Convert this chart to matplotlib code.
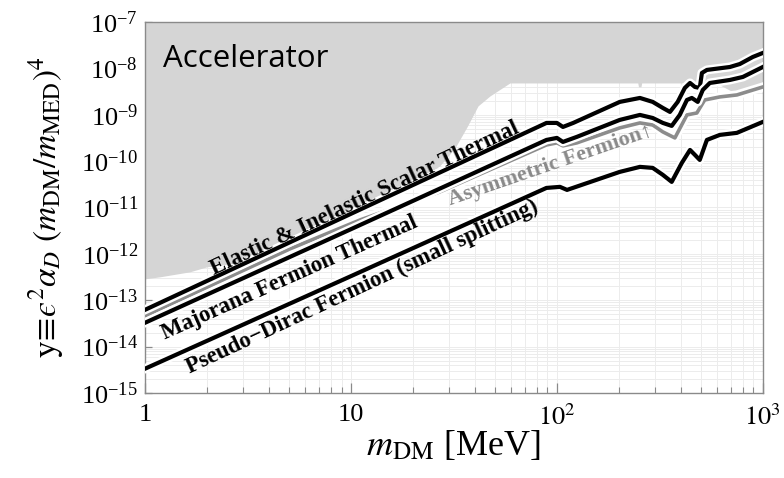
import numpy as np
import matplotlib
matplotlib.use("Agg")
import matplotlib.pyplot as plt
import matplotlib.patheffects as pe
from matplotlib.ticker import LogLocator, FixedLocator, NullFormatter

plt.rcParams['font.family'] = 'serif'
plt.rcParams['font.serif'] = ['Liberation Serif', 'DejaVu Serif']
plt.rcParams['mathtext.fontset'] = 'stix'

# ---- data ----
x_elastic = [1, 10, 89, 100, 107, 120, 202, 253, 292, 327, 354, 386, 418, 443,
             468, 494, 506, 535, 692, 773, 894, 1000]
y_elastic = [6.2e-14, 7.3e-12, 6.65e-10, 6.65e-10, 5.45e-10, 6.65e-10, 1.89e-9,
             2.30e-9, 1.89e-9, 1.40e-9, 1.15e-9, 1.89e-9, 3.78e-9, 4.84e-9,
             3.97e-9, 3.78e-9, 7.96e-9, 9.25e-9, 1.07e-8, 1.24e-8, 1.76e-8, 2.15e-8]

x_majorana = [1, 10, 89, 100, 107, 125, 202, 253, 292, 327, 361, 395, 428, 452,
              483, 511, 553, 692, 800, 1000]
y_majorana = [3.26e-14, 3.4e-12, 2.86e-10, 3.16e-10, 2.59e-10, 3.33e-10, 7.73e-10,
              9.9e-10, 8.5e-10, 6.65e-10, 5.74e-10, 9.9e-10, 2.08e-9, 2.30e-9,
              1.89e-9, 3.42e-9, 4.84e-9, 5.62e-9, 6.53e-9, 1.07e-8]

x_asym = [1, 5.06, 11.1, 27, 89, 100, 107, 125, 202, 253, 292, 327, 374, 428,
          478, 522, 618, 748, 1000]
y_asym = [4.6e-14, 1.28e-12, 5.4e-12, 2.17e-11, 2.23e-10, 2.47e-10, 2.13e-10,
          2.47e-10, 5.2e-10, 6.65e-10, 6.0e-10, 4.26e-10, 3.16e-10, 9.9e-10,
          1.09e-9, 2.08e-9, 2.42e-9, 2.67e-9, 3.97e-9]

x_pseudo = [1, 10, 89, 103.5, 112, 202, 253, 292, 327, 361, 404, 443, 468, 494,
            535, 618, 748, 1000]
y_pseudo = [3.33e-15, 3.3e-13, 2.64e-11, 2.78e-11, 2.39e-11, 5.85e-11, 7.5e-11,
            7.13e-11, 5.04e-11, 3.56e-11, 9.1e-11, 1.74e-10, 1.36e-10, 1.06e-10,
            2.86e-10, 3.67e-10, 4.06e-10, 7.0e-10]

x_accel = [1, 1.18, 1.65, 2.0, 2.89, 5.65, 11.06, 21.6, 27.0, 32.0, 36.6, 41.4,
           47.3, 59.1, 247, 249, 256, 258, 494, 618, 748, 1000]
y_accel = [2.89e-13, 3.19e-13, 4.09e-13, 5.25e-13, 6.4e-13, 2.56e-12, 1.03e-11,
           4.13e-11, 7.9e-11, 1.92e-10, 5.46e-10, 1.55e-9, 2.54e-9, 4.84e-9,
           4.84e-9, 4.0e-9, 4.0e-9, 4.84e-9, 4.84e-9, 4.38e-9, 2.81e-9, 4.18e-9]

x_ticks = [1, 10, 100, 1000]
x_ticklabels = ['1', '10', r'$10^2$', r'$10^3$']

labels = {
    'elastic': 'Elastic & Inelastic Scalar Thermal',
    'majorana': 'Majorana Fermion Thermal',
    'pseudo': 'Pseudo\u2212Dirac Fermion (small splitting)',
    'asym': 'Asymmetric Fermion\u2191',
}

# ---- figure ----
fig = plt.figure(figsize=(7.84, 4.78), dpi=100)
ax = fig.add_axes([0.185, 0.178, 0.788, 0.776])
ax.set_xscale('log')
ax.set_yscale('log')
ax.set_xlim(1, 1000)
ax.set_ylim(1e-15, 1e-7)

# faint grid
ax.yaxis.set_minor_locator(LogLocator(base=10, subs=np.arange(2, 10), numticks=100))
ax.yaxis.set_minor_formatter(NullFormatter())
ax.grid(which='both', color='#ececec', lw=0.7, zorder=0)
ax.set_axisbelow(True)

# accelerator excluded region
ax.fill_between(x_accel, y_accel, 1e-7, color='#d5d5d5', lw=0, zorder=1)

halo = [pe.Stroke(linewidth=6.5, foreground='white'), pe.Normal()]
ax.plot(x_asym, y_asym, color='#8c8c8c', lw=2.6, zorder=3, path_effects=halo,
        solid_joinstyle='round')
for xs, ys in [(x_elastic, y_elastic), (x_majorana, y_majorana), (x_pseudo, y_pseudo)]:
    ax.plot(xs, ys, color='black', lw=3.0, zorder=4, path_effects=halo,
            solid_joinstyle='round')

tfam = ['Liberation Serif', 'DejaVu Serif']
ax.text(11.7, 1.53e-11, labels['elastic'], rotation=25, ha='center', va='center',
        fontsize=16.5, fontweight='bold', family=tfam, rotation_mode='anchor', zorder=5)
ax.text(5.06, 3.04e-13, labels['majorana'], rotation=24, ha='center', va='center',
        fontsize=16.5, fontweight='bold', family=tfam, rotation_mode='anchor', zorder=5)
ax.text(11.4, 1.95e-13, labels['pseudo'], rotation=25, ha='center', va='center',
        fontsize=16.5, fontweight='bold', family=tfam, rotation_mode='anchor', zorder=5)
ax.text(92.5, 7.9e-11, labels['asym'], rotation=19, ha='center', va='center',
        fontsize=16, fontweight='bold', family=tfam, color='#8a8a8a',
        rotation_mode='anchor', zorder=5)

ax.text(0.029, 0.879, 'Accelerator', transform=ax.transAxes, ha='left',
        va='baseline', fontsize=22.5, family=['Open Sans', 'DejaVu Sans'], zorder=6)

# ticks
ax.xaxis.set_major_locator(FixedLocator(x_ticks))
ax.set_xticklabels(x_ticklabels)
ax.yaxis.set_major_locator(LogLocator(base=10, numticks=20))
ax.tick_params(which='both', direction='in', top=False, right=False,
               color='#8a8a8a', labelsize=19)
ax.tick_params(axis='x', which='major', length=7, width=0.9, pad=8)
ax.tick_params(axis='x', which='minor', length=4, width=0.8)
ax.tick_params(axis='y', which='major', length=5, width=0.9, pad=5)
ax.tick_params(axis='y', which='minor', length=0)
for s in ax.spines.values():
    s.set_color('#8a8a8a')
    s.set_linewidth(1.0)

ylab = (r'$\mathrm{y}\!\equiv\!' + '\u03f5' +
        r'^2\alpha_D\ (m_{\mathrm{DM}}/m_{\mathrm{MED}})^4$')
ax.set_ylabel(ylab, fontsize=24)
ax.yaxis.set_label_coords(-0.128, 0.5)
ax.set_xlabel(r'$m_{\mathrm{DM}}$ [MeV]', fontsize=26)
ax.xaxis.set_label_coords(0.5, -0.097)

fig.savefig('out.png', dpi=100)
